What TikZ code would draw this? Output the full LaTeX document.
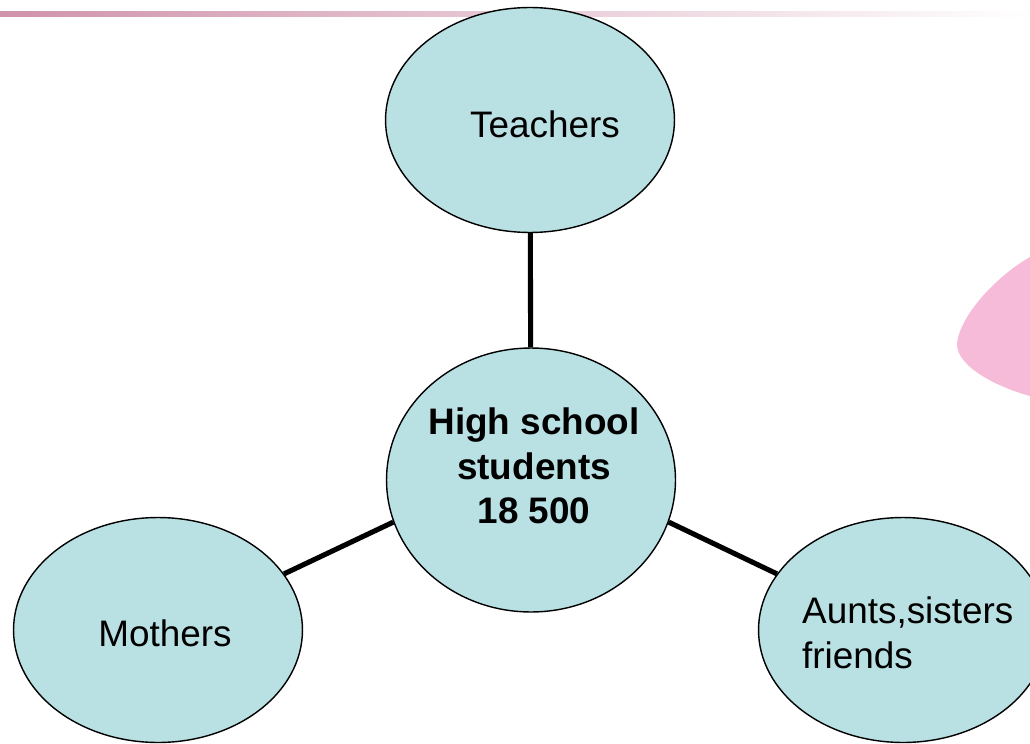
\documentclass[tikz,border=0pt]{standalone}
\usepackage{fontspec}
\setmainfont{Liberation Sans}
\usepackage{tikz}
\usetikzlibrary{shapes.geometric}
\definecolor{bubblefill}{RGB}{185, 224, 227}
\definecolor{rulepink}{RGB}{196, 120, 150}
\definecolor{blobpink}{RGB}{246, 187, 216}

\tikzset{
    bubble/.style={ellipse, draw=black, line width=0.8pt, fill=bubblefill, inner sep=0pt, minimum width=5.78cm, minimum height=4.5cm},
    hub/.style={bubble, minimum height=5.28cm},
    bubbletext/.style={font=\fontsize{21}{25.5}\selectfont, inner sep=0pt},
    spoke/.style={line width=2.9pt, draw=black}
}

\begin{document}
\begin{tikzpicture}[x=0.02cm, y=-0.02cm]
    \useasboundingbox (0,0) rectangle (1030,743);
    % pink rule along the top, pink shape at the right edge
    \shade[left color=rulepink!80, middle color=rulepink, right color=white] (0,12) rectangle (1030,17);
    \fill[blobpink] (1030,257) .. controls (995,277) and (958,318) .. (957,345) .. controls (958,368) and (1000,388) .. (1030,396) -- cycle;

    \node[bubble] (teachers) at (530,120) {};
    \node[hub] (students) at (531,480) {};
    \node[bubble] (mothers) at (158,630) {};
    \node[bubble] (aunts) at (903,630) {};

    \draw[spoke] (teachers) -- (students);
    \draw[spoke] (mothers.24) -- (students.197);
    \draw[spoke] (students.343) -- (aunts.156);

    \node[bubbletext] (teachers-text) at ([xshift=0.3cm, yshift=-0.08cm]teachers.center) {Teachers};
    \node[bubbletext, align=center, font=\fontsize{21}{25.5}\selectfont\bfseries] (students-text) at ([xshift=0.06cm, yshift=0.28cm]students.center) {High school\\students\\18 500};
    \node[bubbletext] (mothers-text) at ([xshift=0.14cm, yshift=-0.06cm]mothers.center) {Mothers};
    \node[bubbletext, anchor=west, align=left] (aunts-text) at ([xshift=0.88cm, yshift=-0.06cm]aunts.west) {Aunts,sisters\\friends};
\end{tikzpicture}
\end{document}
